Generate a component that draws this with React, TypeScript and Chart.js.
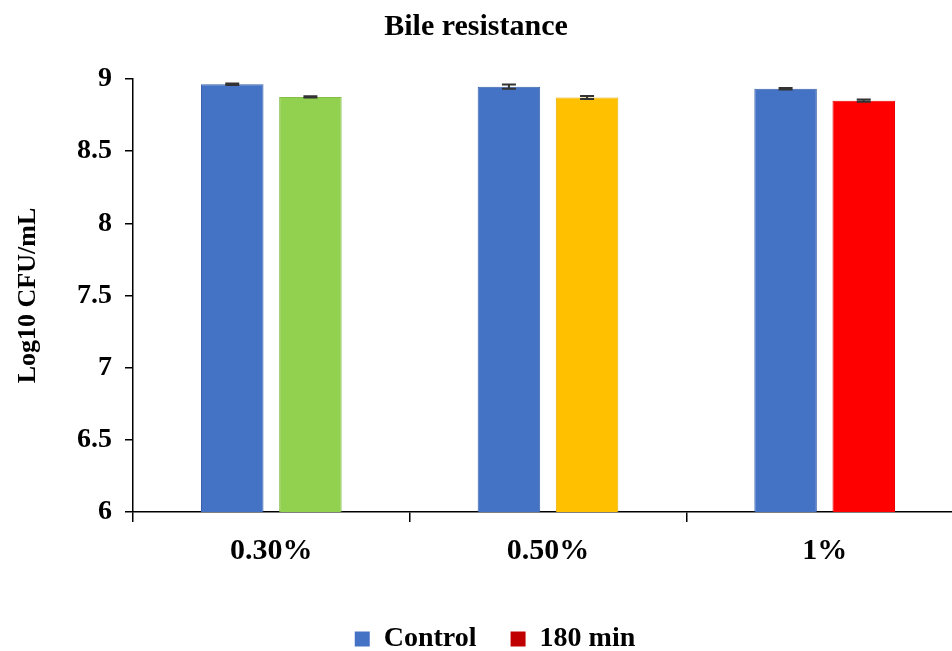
import React, { useEffect, useRef } from "react";
import { Chart, registerables } from "chart.js";

Chart.register(...registerables);

const categories = ["0.30%", "0.50%", "1%"];
const controlValues = [8.963, 8.947, 8.933];
const controlErrors = [0.005, 0.015, 0.005];
const treatValues = [8.876, 8.872, 8.85];
const treatErrors = [0.005, 0.01, 0.008];
const seriesNames = ["Control", "180 min"];
const yTicks = [6, 6.5, 7, 7.5, 8, 8.5, 9];

const FONT = "'Liberation Serif', 'Times New Roman', serif";

const errorBarPlugin = {
  id: "errorBars",
  afterDatasetsDraw(chart: any) {
    const { ctx } = chart;
    const yScale = chart.scales.y;
    const errs = [controlErrors, treatErrors];
    chart.data.datasets.forEach((ds: any, di: number) => {
      const meta = chart.getDatasetMeta(di);
      meta.data.forEach((bar: any, i: number) => {
        const v = ds.data[i];
        const e = errs[di][i];
        const x = bar.x;
        const yTop = yScale.getPixelForValue(v + e);
        const yBot = yScale.getPixelForValue(v - e);
        ctx.save();
        ctx.strokeStyle = "#333333";
        ctx.lineWidth = 2;
        ctx.beginPath();
        ctx.moveTo(x, yTop);
        ctx.lineTo(x, yBot);
        ctx.moveTo(x - 7, yTop);
        ctx.lineTo(x + 7, yTop);
        ctx.moveTo(x - 7, yBot);
        ctx.lineTo(x + 7, yBot);
        ctx.stroke();
        ctx.restore();
      });
    });
  },
};

// Extends the category axis slightly past the canvas edge (as in the original figure)
// and moves the legend to its place.
const layoutTweak = {
  id: "layoutTweak",
  afterLayout(chart: any) {
    const x = chart.scales.x;
    x.right = x.right + 11;
    x.width = x.right - x.left;
    x.configure();
    chart.chartArea.right = x.right;
    chart.chartArea.width = x.right - chart.chartArea.left;
    const lg = chart.legend;
    if (lg) {
      const h = lg.bottom - lg.top;
      lg.top = lg.top + 12;
      lg.bottom = lg.top + h;
      lg.left = lg.left + 19;
      lg.right = lg.right + 19;
    }
  },
};

export default function App() {
  const ref = useRef<HTMLCanvasElement | null>(null);
  useEffect(() => {
    document.body.style.margin = "0";
    if (!ref.current) return;
    const chart = new Chart(ref.current, {
      type: "bar",
      data: {
        labels: categories,
        datasets: [
          {
            label: seriesNames[0],
            data: controlValues,
            backgroundColor: "#4472C4",
            borderColor: "#3A62AC",
            borderWidth: 1,
            categoryPercentage: 0.565,
            barPercentage: 0.8,
          },
          {
            label: seriesNames[1],
            data: treatValues,
            backgroundColor: ["#92D050", "#FFC000", "#FF0000"],
            borderColor: ["#84BE48", "#E8AF00", "#E80000"],
            borderWidth: 1,
            categoryPercentage: 0.565,
            barPercentage: 0.8,
          },
        ],
      },
      options: {
        animation: false,
        responsive: true,
        maintainAspectRatio: false,
        layout: { padding: { left: 0, right: 0, top: 0, bottom: 0 } },
        plugins: {
          title: {
            display: true,
            text: "Bile resistance",
            color: "#000",
            font: { family: FONT, size: 30, weight: "bold" },
            padding: { top: 9, bottom: 34 },
          },
          legend: {
            display: true,
            position: "bottom",
            labels: {
              color: "#000",
              font: { family: FONT, size: 28, weight: "bold" },
              boxWidth: 15,
              boxHeight: 15,
              padding: 34,
              generateLabels: () => [
                {
                  text: seriesNames[0],
                  fillStyle: "#4472C4",
                  strokeStyle: "#4472C4",
                  lineWidth: 0,
                  datasetIndex: 0,
                  fontColor: "#000",
                },
                {
                  text: seriesNames[1],
                  fillStyle: "#C00000",
                  strokeStyle: "#C00000",
                  lineWidth: 0,
                  datasetIndex: 1,
                  fontColor: "#000",
                },
              ],
            },
          },
          tooltip: { enabled: false },
        },
        scales: {
          x: {
            afterFit: (scale: any) => {
              scale.height = 67;
            },
            grid: {
              display: true,
              drawOnChartArea: false,
              drawTicks: true,
              tickLength: 10,
              color: "#000",
              lineWidth: 1.5,
            },
            border: { display: true, color: "#000", width: 1.5 },
            ticks: {
              color: "#000",
              font: { family: FONT, size: 30, weight: "bold" },
              padding: 11,
            },
          },
          y: {
            min: 6,
            max: 9,
            afterBuildTicks: (scale: any) => {
              scale.ticks = yTicks.map((v) => ({ value: v }));
            },
            afterFit: (scale: any) => {
              scale.width = 133;
            },
            grid: {
              display: true,
              drawOnChartArea: false,
              drawTicks: true,
              tickLength: 8,
              color: "#000",
              lineWidth: 1.5,
            },
            border: { display: true, color: "#000", width: 1.5 },
            ticks: {
              color: "#000",
              font: { family: FONT, size: 28, weight: "bold" },
              padding: 13,
              callback: (v: any) => String(v),
            },
            title: {
              display: true,
              text: "Log10 CFU/mL",
              color: "#000",
              font: { family: FONT, size: 26, weight: "bold" },
              padding: { top: 13, bottom: 0 },
            },
          },
        },
      },
      plugins: [errorBarPlugin, layoutTweak],
    });
    return () => chart.destroy();
  }, []);
  return (
    <div style={{ width: 952, height: 651, position: "relative" }}>
      <canvas ref={ref} />
    </div>
  );
}
